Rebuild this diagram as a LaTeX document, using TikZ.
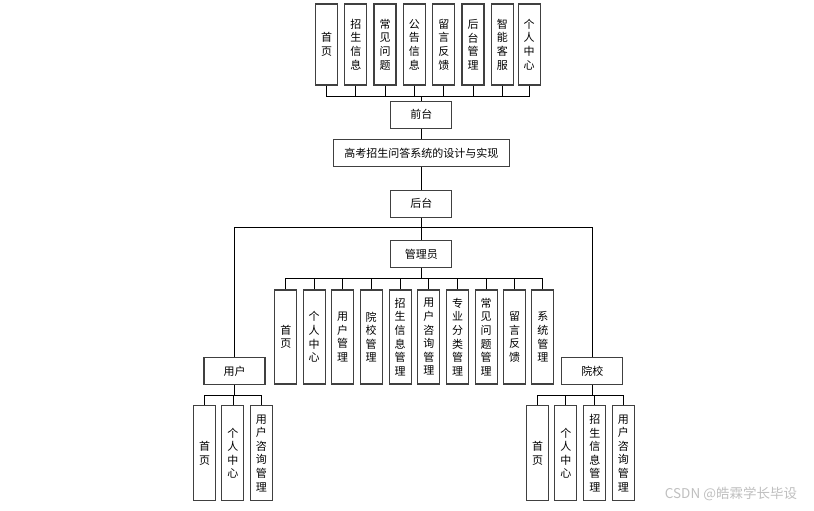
\documentclass[tikz,border=0pt]{standalone}
\usepackage{fontspec}
\setmainfont{Noto Sans CJK SC}
\begin{document}
\begin{tikzpicture}[x=1pt,y=1pt]
\tikzstyle{every node}+=[inner sep=0pt, font=\fontsize{11}{13.6}\selectfont]
\tikzstyle{hbox}=[draw=black!75, line width=1.1pt, fill=white, minimum width=61pt, minimum height=27pt]
\tikzstyle{vbox}=[draw=black!75, line width=1.1pt, fill=white, minimum width=22pt, text width=12pt, align=center]
\tikzstyle{link}=[black, line width=0.7pt]
\useasboundingbox (0,0) rectangle (814,-511);
\node [vbox, minimum height=81pt] (q1) at (326.5,-44.5) {首\\页};
\node [vbox, minimum height=81pt] (q2) at (355.8,-44.5) {招\\生\\信\\息};
\node [vbox, minimum height=81pt] (q3) at (385,-44.5) {常\\见\\问\\题};
\node [vbox, minimum height=81pt] (q4) at (414.3,-44.5) {公\\告\\信\\息};
\node [vbox, minimum height=81pt] (q5) at (443.8,-44.5) {留\\言\\反\\馈};
\node [vbox, minimum height=81pt] (q6) at (473,-44.5) {后\\台\\管\\理};
\node [vbox, minimum height=81pt] (q7) at (502.4,-44.5) {智\\能\\客\\服};
\node [vbox, minimum height=81pt] (q8) at (529.2,-44.5) {个\\人\\中\\心};
\node [hbox] (qt) at (421.3,-114.7) {前台};
\node [hbox, minimum width=176pt] (sys) at (421.3,-153.3) {高考招生问答系统的设计与实现};
\node [hbox] (ht) at (421.3,-203.7) {后台};
\node [hbox] (gly) at (421.3,-254) {管理员};
\node [vbox, minimum height=94pt] (a1) at (285.8,-337) {首\\页};
\node [vbox, minimum height=94pt] (a2) at (314.2,-337) {个\\人\\中\\心};
\node [vbox, minimum height=94pt] (a3) at (342.5,-337) {用\\户\\管\\理};
\node [vbox, minimum height=94pt] (a4) at (371.2,-337) {院\\校\\管\\理};
\node [vbox, minimum height=94pt] (a5) at (400.2,-337) {招\\生\\信\\息\\管\\理};
\node [vbox, minimum height=94pt] (a6) at (428.8,-337) {用\\户\\咨\\询\\管\\理};
\node [vbox, minimum height=94pt] (a7) at (457.5,-337) {专\\业\\分\\类\\管\\理};
\node [vbox, minimum height=94pt] (a8) at (486.2,-337) {常\\见\\问\\题\\管\\理};
\node [vbox, minimum height=94pt] (a9) at (514.5,-337) {留\\言\\反\\馈};
\node [vbox, minimum height=94pt] (a10) at (542.8,-337) {系\\统\\管\\理};
\node [hbox] (yh) at (234.5,-371) {用户};
\node [vbox, minimum height=95pt] (u1) at (204.5,-453.2) {首\\页};
\node [vbox, minimum height=95pt] (u2) at (232.9,-453.2) {个\\人\\中\\心};
\node [vbox, minimum height=95pt] (u3) at (261.3,-453.2) {用\\户\\咨\\询\\管\\理};
\node [hbox] (yx) at (592.4,-371) {院校};
\node [vbox, minimum height=95pt] (s1) at (537.5,-453.2) {首\\页};
\node [vbox, minimum height=95pt] (s2) at (565.8,-453.2) {个\\人\\中\\心};
\node [vbox, minimum height=95pt] (s3) at (594.8,-453.2) {招\\生\\信\\息\\管\\理};
\node [vbox, minimum height=95pt] (s4) at (623.3,-453.2) {用\\户\\咨\\询\\管\\理};
\coordinate (qbus) at (421.3,-96);
\coordinate (hbar) at (421.3,-227.3);
\coordinate (abus) at (421.3,-278.3);
\coordinate (ubus) at (234.5,-395.5);
\coordinate (sbus) at (592.4,-395.5);
\draw [link] (q1.south) |- (qbus);
\draw [link] (q2.south) |- (qbus);
\draw [link] (q3.south) |- (qbus);
\draw [link] (q4.south) |- (qbus);
\draw [link] (q5.south) |- (qbus);
\draw [link] (q6.south) |- (qbus);
\draw [link] (q7.south) |- (qbus);
\draw [link] (q8.south) |- (qbus);
\draw [link] (qbus) -- (qt.north);
\draw [link] (qt.south) -- (sys.north);
\draw [link] (sys.south) -- (ht.north);
\draw [link] (ht.south) -- (gly.north);
\draw [link] (yh.north) |- (hbar) -| (yx.north);
\draw [link] (gly.south) -- (abus);
\draw [link] (a1.north) |- (abus);
\draw [link] (a2.north) |- (abus);
\draw [link] (a3.north) |- (abus);
\draw [link] (a4.north) |- (abus);
\draw [link] (a5.north) |- (abus);
\draw [link] (a6.north) |- (abus);
\draw [link] (a7.north) |- (abus);
\draw [link] (a8.north) |- (abus);
\draw [link] (a9.north) |- (abus);
\draw [link] (a10.north) |- (abus);
\draw [link] (yh.south) -- (ubus);
\draw [link] (u1.north) |- (ubus);
\draw [link] (u2.north) |- (ubus);
\draw [link] (u3.north) |- (ubus);
\draw [link] (yx.south) -- (sbus);
\draw [link] (s1.north) |- (sbus);
\draw [link] (s2.north) |- (sbus);
\draw [link] (s3.north) |- (sbus);
\draw [link] (s4.north) |- (sbus);
\node [text=black!25, font=\fontsize{13.5}{15}\selectfont] (wm) at (731,-494) {CSDN @皓霖学长毕设};
\end{tikzpicture}
\end{document}
